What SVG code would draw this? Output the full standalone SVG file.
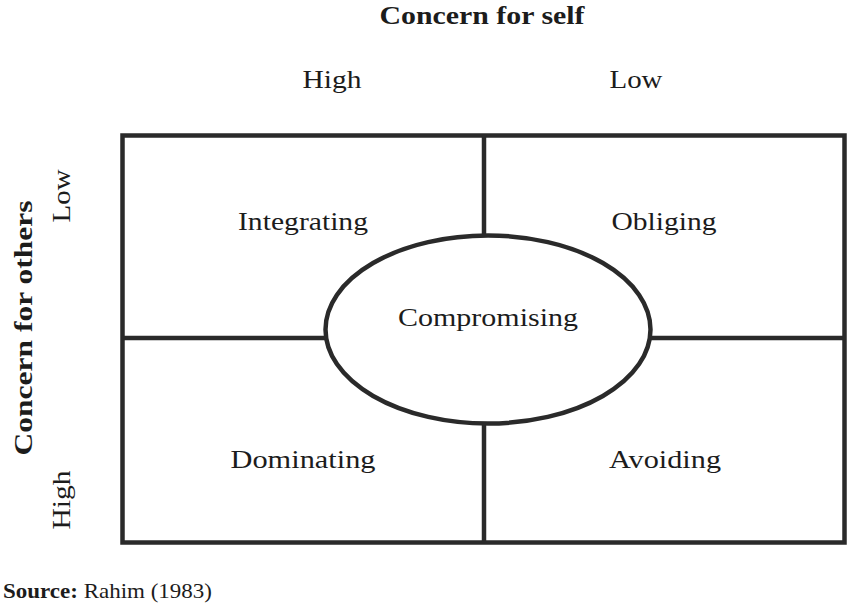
<svg xmlns="http://www.w3.org/2000/svg" width="850" height="608" viewBox="0 0 850 608">
<style>
.t{font-family:"Liberation Serif","Times New Roman",serif;fill:#1c1c1c;font-size:26px}
.b{font-weight:bold}
.ln{stroke:#2a2a2a;stroke-width:4.5;fill:none}
</style>
<rect width="850" height="608" fill="#fff"/>
<g id="frame">
<rect class="ln" x="122.5" y="135.5" width="722" height="407"/>
</g>
<g id="connectors">
<line class="ln" x1="484" y1="135.5" x2="484" y2="236"/>
<line class="ln" x1="484" y1="423" x2="484" y2="542.5"/>
<line class="ln" x1="122.5" y1="338" x2="326" y2="338"/>
<line class="ln" x1="650" y1="338" x2="844.5" y2="338"/>
</g>
<g id="compromising">
<ellipse class="ln" cx="488" cy="329.5" rx="162.5" ry="94"/>
<text class="t" x="488" y="326" text-anchor="middle" textLength="180" lengthAdjust="spacingAndGlyphs">Compromising</text>
</g>
<g id="integrating"><text class="t" x="303" y="230" text-anchor="middle" textLength="130" lengthAdjust="spacingAndGlyphs">Integrating</text></g>
<g id="obliging"><text class="t" x="664" y="230" text-anchor="middle" textLength="105" lengthAdjust="spacingAndGlyphs">Obliging</text></g>
<g id="dominating"><text class="t" x="303" y="468" text-anchor="middle" textLength="145" lengthAdjust="spacingAndGlyphs">Dominating</text></g>
<g id="avoiding"><text class="t" x="665" y="468" text-anchor="middle" textLength="112" lengthAdjust="spacingAndGlyphs">Avoiding</text></g>
<g id="axis-self">
<text class="t b" x="482" y="24" text-anchor="middle" style="font-size:25px" textLength="205" lengthAdjust="spacingAndGlyphs">Concern for self</text>
<text class="t" x="332" y="88" text-anchor="middle" textLength="59" lengthAdjust="spacingAndGlyphs">High</text>
<text class="t" x="636" y="88" text-anchor="middle" textLength="53" lengthAdjust="spacingAndGlyphs">Low</text>
</g>
<g id="axis-others">
<text class="t b" transform="translate(32,328) rotate(-90)" text-anchor="middle" textLength="255" lengthAdjust="spacingAndGlyphs">Concern  for  others</text>
<text class="t" transform="translate(70,196) rotate(-90)" text-anchor="middle" textLength="53" lengthAdjust="spacingAndGlyphs">Low</text>
<text class="t" transform="translate(70,500) rotate(-90)" text-anchor="middle" textLength="59" lengthAdjust="spacingAndGlyphs">High</text>
</g>
<g id="source">
<text class="t" x="3" y="598" style="font-size:22px" textLength="209" lengthAdjust="spacingAndGlyphs"><tspan class="b">Source:</tspan> Rahim (1983)</text>
</g>
</svg>
